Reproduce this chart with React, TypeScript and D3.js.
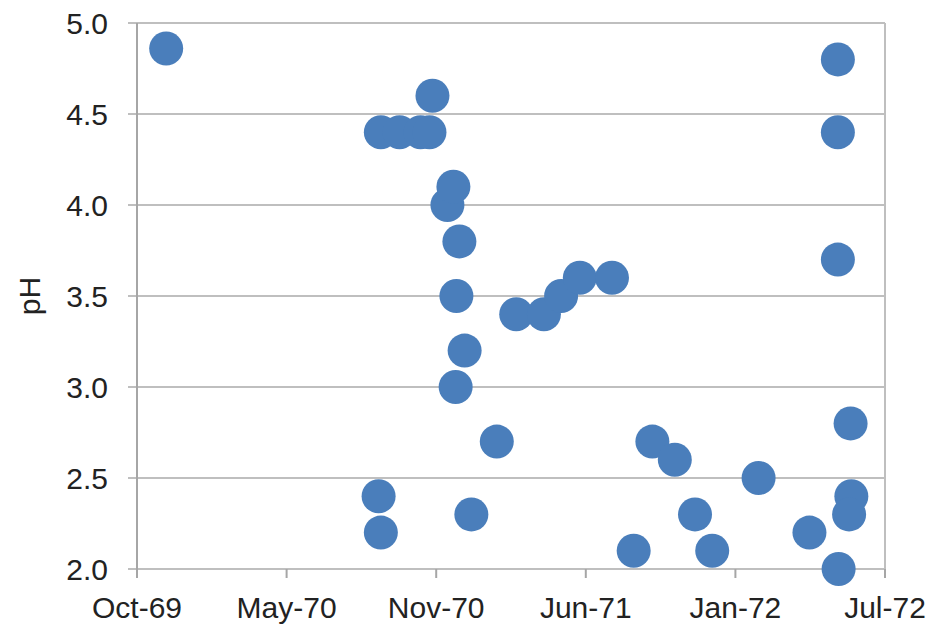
import React from "react";
import * as d3 from "d3";

const sampleDates: string[] = [
  "1969-12-03",
  "1970-09-16", "1970-10-11", "1970-11-08", "1970-11-20", "1970-11-24",
  "1970-12-14", "1970-12-22", "1970-12-30", "1970-12-26", "1971-01-06",
  "1970-12-25", "1971-01-15", "1971-02-18", "1970-09-13", "1970-09-16",
  "1971-03-16", "1971-04-22", "1971-05-15", "1971-06-09", "1971-07-22",
  "1971-08-20", "1971-09-14", "1971-10-14", "1971-11-10", "1971-12-03",
  "1972-02-03", "1972-04-11", "1972-05-20", "1972-05-19", "1972-05-19",
  "1972-05-19", "1972-06-05", "1972-06-06", "1972-06-03",
];

const phValues: number[] = [
  4.86,
  4.4, 4.4, 4.4, 4.4, 4.6,
  4.0, 4.1, 3.8, 3.5, 3.2,
  3.0, 2.3, 2.7, 2.4, 2.2,
  3.4, 3.4, 3.5, 3.6, 3.6,
  2.1, 2.7, 2.6, 2.3, 2.1,
  2.5, 2.2, 2.0, 4.8, 4.4,
  3.7, 2.8, 2.4, 2.3,
];

const xTickDates: string[] = [
  "1969-10-25", "1970-05-13", "1970-11-29", "1971-06-17", "1972-01-03", "1972-07-21",
];
const xTickLabels: string[] = ["Oct-69", "May-70", "Nov-70", "Jun-71", "Jan-72", "Jul-72"];
const yTicks: number[] = [2.0, 2.5, 3.0, 3.5, 4.0, 4.5, 5.0];

const W = 932;
const H = 626;
const left = 137;
const right = 885;
const top = 23;
const bottom = 569;
const FONT = "'Liberation Sans', Arial, sans-serif";

export default function App() {
  const parse = d3.utcParse("%Y-%m-%d");
  const tickDates = xTickDates.map((d) => parse(d) as Date);
  const x = d3
    .scaleUtc()
    .domain([tickDates[0], tickDates[tickDates.length - 1]])
    .range([left, right]);
  const y = d3.scaleLinear().domain([2, 5]).range([bottom, top]);

  const points = sampleDates.map((d, i) => ({ date: parse(d) as Date, v: phValues[i] }));

  return (
    <svg
      width={W}
      height={H}
      style={{ position: "absolute", left: 0, top: 0, background: "#fff" }}
    >
      <rect x={0} y={0} width={W} height={H} fill="#fff" />
      {yTicks.map((t) => (
        <g key={"y" + t}>
          <line x1={left - 9} x2={right} y1={y(t)} y2={y(t)} stroke="#bfbfbf" strokeWidth={2} />
          <text
            x={108}
            y={y(t)}
            dy="0.36em"
            textAnchor="end"
            fontFamily={FONT}
            fontSize={30}
            fill="#222"
          >
            {t.toFixed(1)}
          </text>
        </g>
      ))}
      <line x1={left} x2={left} y1={top} y2={bottom + 9} stroke="#a6a6a6" strokeWidth={2} />
      <line x1={right} x2={right} y1={top} y2={bottom + 9} stroke="#bfbfbf" strokeWidth={2} />
      {tickDates.map((d, i) => (
        <g key={"x" + i}>
          <line x1={x(d)} x2={x(d)} y1={bottom} y2={bottom + 9} stroke="#a6a6a6" strokeWidth={2} />
          <text
            x={x(d)}
            y={618}
            textAnchor="middle"
            fontFamily={FONT}
            fontSize={30}
            fill="#222"
          >
            {xTickLabels[i]}
          </text>
        </g>
      ))}
      <text
        transform={`translate(40, 296) rotate(-90)`}
        textAnchor="middle"
        fontFamily={FONT}
        fontSize={30}
        fill="#222"
      >
        pH
      </text>
      {points.map((p, i) => (
        <circle key={i} cx={x(p.date)} cy={y(p.v)} r={17} fill="#4a7ebb" />
      ))}
    </svg>
  );
}
